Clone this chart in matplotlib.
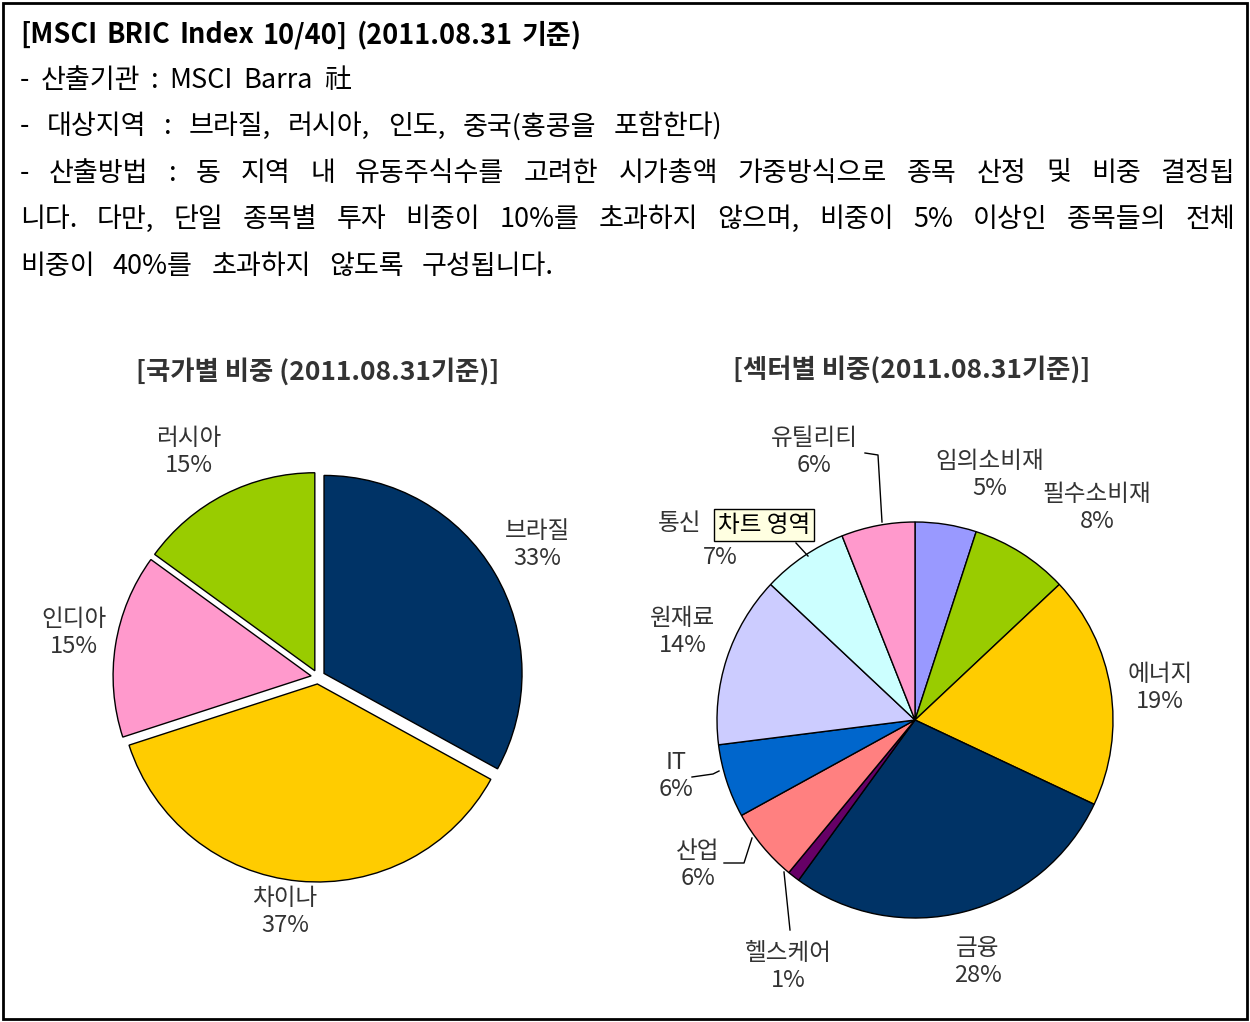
import matplotlib
matplotlib.use("Agg")
import matplotlib.pyplot as plt
from matplotlib.patches import Rectangle

plt.rcParams['font.family'] = ['Noto Sans CJK KR', 'DejaVu Sans']

W, H = 1250, 1022

# ---- data ----
country_names = ["브라질", "차이나", "인디아", "러시아"]
country_pct = [33, 37, 15, 15]
country_colors = ["#003366", "#FFCC00", "#FF99CC", "#99CC00"]

sector_names = ["임의소비재", "필수소비재", "에너지", "금융", "헬스케어",
                "산업", "IT", "원재료", "통신", "유틸리티"]
sector_pct = [5, 8, 19, 28, 1, 6, 6, 14, 7, 6]
sector_colors = ["#9999FF", "#99CC00", "#FFCC00", "#003366", "#660066",
                 "#FF8080", "#0066CC", "#CCCCFF", "#CCFFFF", "#FF99CC"]

title_text = "[MSCI BRIC Index 10/40] (2011.08.31 기준)"
body_lines = [
    "- 산출기관 : MSCI Barra 社",
    "- 대상지역 : 브라질, 러시아, 인도, 중국(홍콩을 포함한다)",
    "- 산출방법 : 동 지역 내 유동주식수를 고려한 시가총액 가중방식으로 종목 산정 및 비중 결정됩",
    "니다. 다만, 단일 종목별 투자 비중이 10%를 초과하지 않으며, 비중이 5% 이상인 종목들의 전체",
    "비중이 40%를 초과하지 않도록 구성됩니다.",
]
# right edge of each text line in the source box (pixels)
line_ends = [351, 722, 1235, 1235, 554]


def Y(py):
    return H - py


fig = plt.figure(figsize=(W / 100, H / 100), dpi=100)
ax = fig.add_axes([0, 0, 1, 1])
ax.set_aspect("equal")
ax.axis("off")

ax.add_patch(Rectangle((3, Y(1019)), 1244, 1016, fill=False, edgecolor="black", lw=2))

renderer = fig.canvas.get_renderer()


def put_line(text, y, x0, x1, **kw):
    # spread words so the line runs from x0 to x1, like the wide spacing of the source
    words = text.split(" ")
    arts = [ax.text(0, Y(y), w, va="center", ha="left", **kw) for w in words]
    widths = [a.get_window_extent(renderer).width for a in arts]
    gap = (x1 - x0 - sum(widths)) / max(len(words) - 1, 1)
    x = x0
    for a, w in zip(arts, widths):
        a.set_x(x)
        x += w + gap


put_line(title_text, 35, 20, 582, fontsize=19.5, fontweight="bold", color="black")
for i, line in enumerate(body_lines):
    put_line(line, 80 + i * 46.5, 20, line_ends[i], fontsize=19.5, color="black")

wp = dict(edgecolor="black", linewidth=1)

# ---- country pie ----
ax.pie(country_pct, colors=country_colors, startangle=90, counterclock=False,
       center=(318, Y(677)), radius=198, explode=[7] * 4, wedgeprops=wp, frame=True)

lab_kw = dict(ha="center", va="center", fontsize=17, color="#333333", linespacing=1.22)
ax.text(318, Y(372), "[국가별 비중 (2011.08.31기준)]", ha="center", va="center",
        fontsize=19, fontweight="bold", color="#333333")
country_pos = [(537, 545), (285, 912), (74, 633), (189, 452)]
for name, pct, (px, py) in zip(country_names, country_pct, country_pos):
    ax.text(px, Y(py), f"{name}\n{pct}%", **lab_kw)

# ---- sector pie ----
ax.pie(sector_pct, colors=sector_colors, startangle=90, counterclock=False,
       center=(915, Y(720)), radius=198, wedgeprops=wp, frame=True)

ax.text(912, Y(370), "[섹터별 비중(2011.08.31기준)]", ha="center", va="center",
        fontsize=19, fontweight="bold", color="#333333")
sector_pos = [(990, 475), (1097, 508), (1160, 688), (978, 962), (788, 967),
              (698, 865), (676, 776), (683, 632), None, (814, 452)]
for name, pct, pos in zip(sector_names, sector_pct, sector_pos):
    if pos is None:
        continue
    ax.text(pos[0], Y(pos[1]), f"{name}\n{pct}%", **lab_kw)

# 통신 label, partly hidden behind the tooltip
ax.text(680, Y(523), sector_names[8], ha="center", va="center", fontsize=17, color="#333333")
ax.text(720, Y(557), f"{sector_pct[8]}%", ha="center", va="center", fontsize=17, color="#333333")

leaders = [
    [(865, 453), (878, 455), (882, 522)],
    [(784, 872), (790, 930)],
    [(724, 863), (744, 863), (752, 838)],
    [(692, 777), (713, 774), (719, 771)],
    [(796, 543), (808, 556)],
]
for pts in leaders:
    ax.plot([p[0] for p in pts], [Y(p[1]) for p in pts], color="black", lw=1)

ax.text(764, Y(525), "차트 영역", ha="center", va="center", fontsize=17, color="black",
        bbox=dict(boxstyle="square,pad=0.18", facecolor="#FFFFE1", edgecolor="black", lw=1))

ax.set_xlim(0, W)
ax.set_ylim(0, H)
ax.axis("off")

fig.savefig("out.png", dpi=100)
